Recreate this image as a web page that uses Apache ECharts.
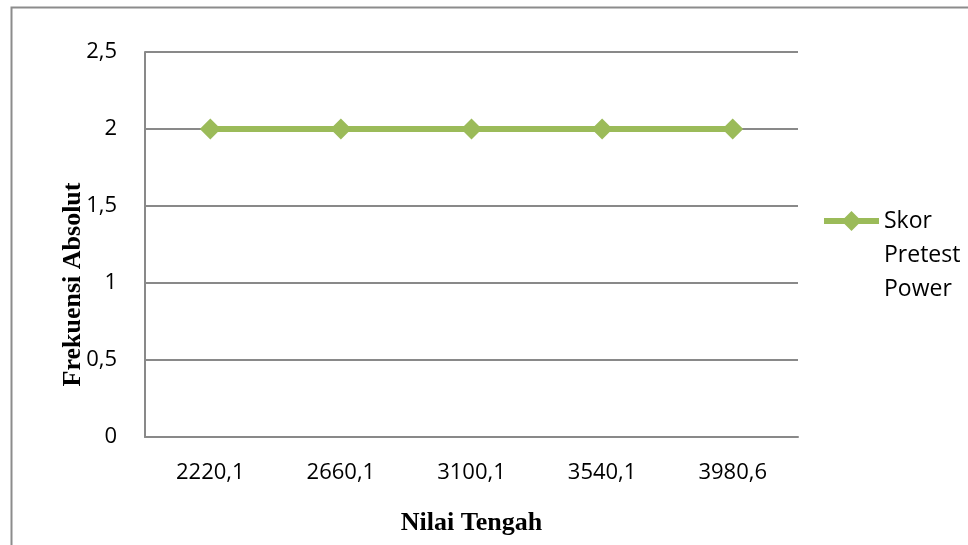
<!DOCTYPE html>
<html>
<head>
<meta charset="utf-8">
<script src="https://cdn.jsdelivr.net/npm/echarts@6/dist/echarts.min.js"></script>
<style>
  html, body { margin: 0; padding: 0; background: #ffffff; }
  #chart { width: 968px; height: 545px; }
</style>
</head>
<body>
<div id="chart"></div>
<script>
// Class midpoints and their absolute frequencies
const categories = ['2220,1', '2660,1', '3100,1', '3540,1', '3980,6'];
const frequencies = [2, 2, 2, 2, 2];
const seriesName = 'Skor Pretest Power';

const lineGreen = '#9BBB59';
const gridGray = '#898989';

const chart = echarts.init(document.getElementById('chart'), null, { renderer: 'canvas' });

chart.setOption({
  backgroundColor: '#ffffff',
  animation: false,
  graphic: [{
    type: 'rect',
    left: 9,
    top: 5,
    shape: { x: 0, y: 0, width: 1100, height: 700 },
    style: { fill: 'none', stroke: '#8c8c8c', lineWidth: 2 },
    silent: true
  }],
  grid: { left: 145, right: 170, top: 52, bottom: 108, outerBoundsMode: 'none', containLabel: false },
  legend: {
    data: [seriesName],
    left: 816,
    top: 131,
    orient: 'vertical',
    itemWidth: 55,
    itemHeight: 25,
    itemGap: 5,
    lineStyle: { width: 6 },
    // two blank lines on top keep the marker level with the first word
    formatter: () => ' \n \nSkor\nPretest\nPower',
    textStyle: {
      fontFamily: 'Open Sans',
      fontSize: 23,
      color: '#000000',
      lineHeight: 34
    }
  },
  xAxis: {
    type: 'category',
    data: categories,
    boundaryGap: true,
    name: 'Nilai Tengah',
    nameLocation: 'middle',
    nameGap: 73,
    nameMoveOverlap: false,
    nameTextStyle: { fontFamily: 'Liberation Serif', fontWeight: 'bold', fontSize: 26, color: '#000000' },
    axisLine: { lineStyle: { color: gridGray, width: 2 } },
    axisTick: { show: false },
    axisLabel: { fontFamily: 'Open Sans', fontSize: 22, color: '#000000', margin: 25 }
  },
  yAxis: {
    type: 'value',
    min: 0,
    max: 2.5,
    interval: 0.5,
    name: 'Frekuensi Absolut',
    nameLocation: 'middle',
    nameRotate: 90,
    nameGap: 59,
    nameMoveOverlap: false,
    nameTextStyle: {
      fontFamily: 'Liberation Serif', fontWeight: 'bold', fontSize: 26, color: '#000000',
      padding: [0, 80, 0, 0]
    },
    axisLine: { show: true, lineStyle: { color: gridGray, width: 2 } },
    axisTick: { show: false },
    splitLine: { lineStyle: { color: gridGray, width: 2 } },
    axisLabel: {
      fontFamily: 'Open Sans',
      fontSize: 22,
      color: '#000000',
      margin: 28,
      formatter: v => String(v).replace('.', ',')
    }
  },
  series: [{
    name: seriesName,
    type: 'line',
    data: frequencies,
    symbol: 'diamond',
    symbolSize: 21,
    itemStyle: { color: lineGreen },
    lineStyle: { color: lineGreen, width: 6 }
  }]
});
</script>
</body>
</html>
